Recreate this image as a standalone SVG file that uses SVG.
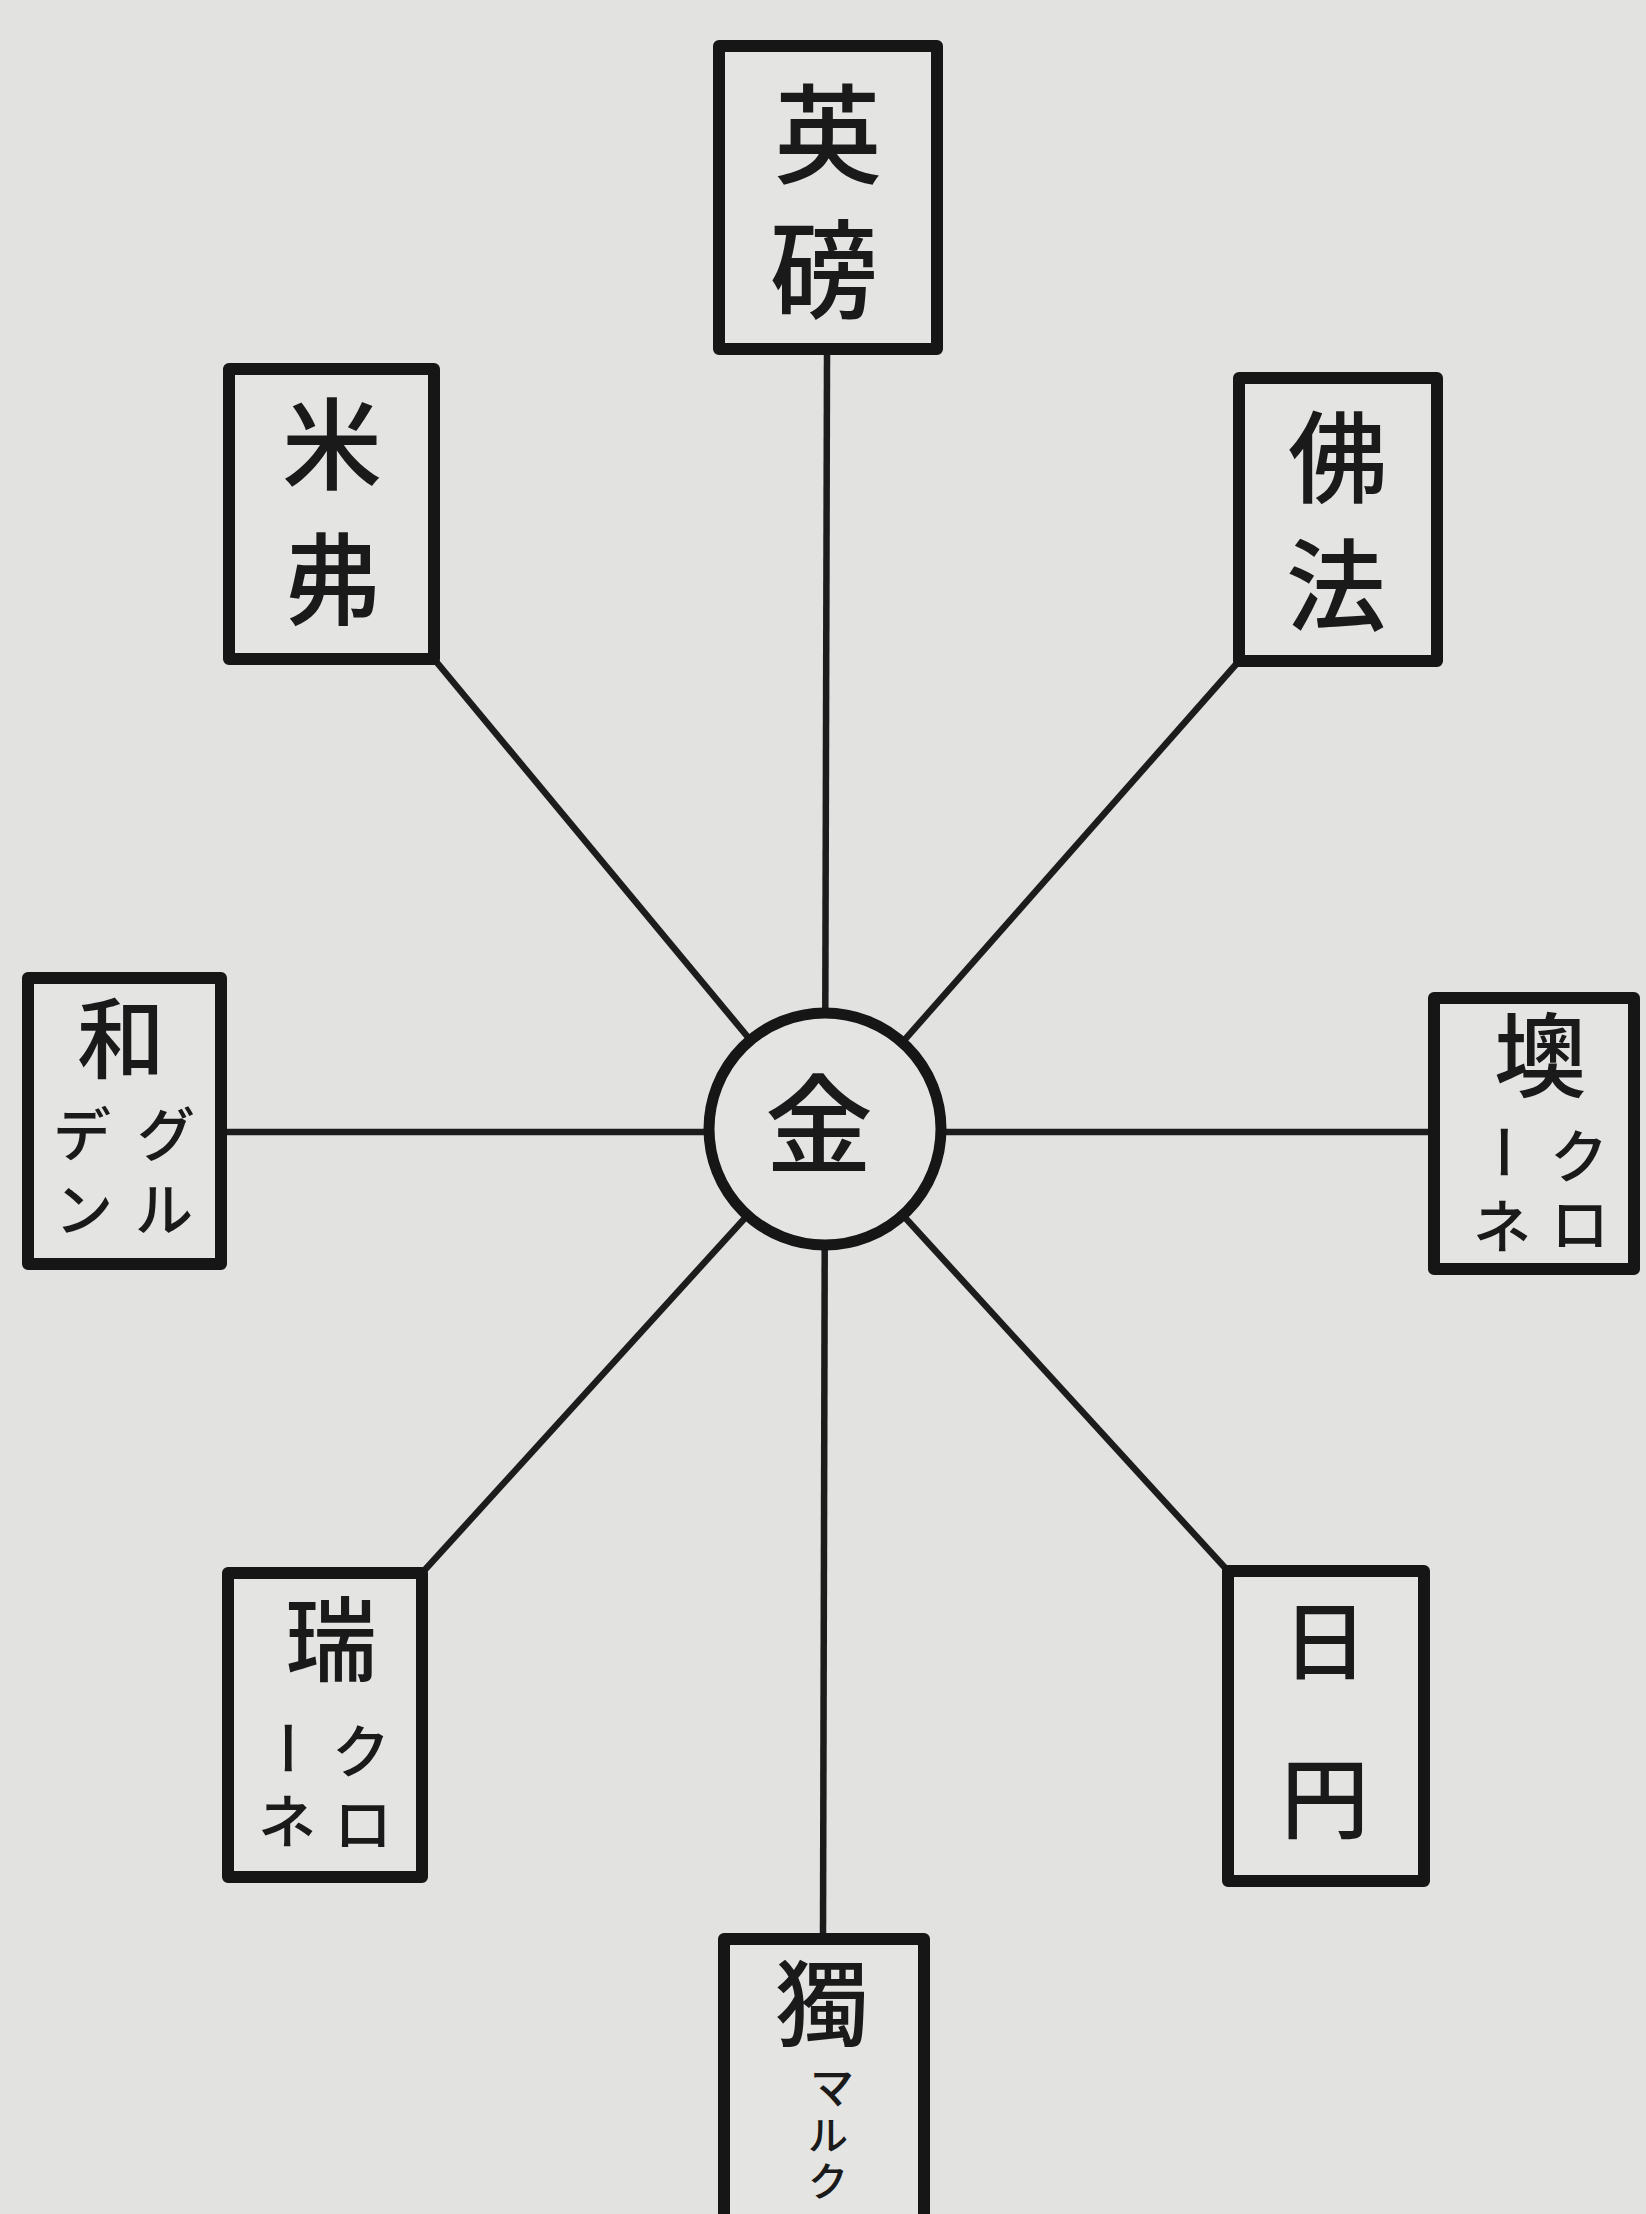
<svg xmlns="http://www.w3.org/2000/svg" width="1646" height="2214" viewBox="0 0 1646 2214">
<style>
.bg{fill:#e2e2e0}
.box{fill:#e4e4e2;stroke:#161616;stroke-width:12;stroke-linejoin:round}
.conn{stroke:#1c1c1c;stroke-width:6.5;fill:none}
.hub{fill:#e4e4e2;stroke:#161616;stroke-width:11}
text{font-family:"Liberation Sans","Noto Sans CJK JP","Noto Sans CJK SC",sans-serif;font-weight:500;fill:#1a1a1a;text-anchor:middle;dominant-baseline:central}
.k{font-size:100px}
.s{font-size:58px}
</style>
<rect class="bg" x="0" y="0" width="1646" height="2214"/>
<g id="connectors">
<line class="conn" x1="827" y1="355" x2="825" y2="1130"/>
<line class="conn" x1="825" y1="1130" x2="823" y2="1939"/>
<line class="conn" x1="221" y1="1132" x2="1434" y2="1132"/>
<line class="conn" x1="434" y1="659" x2="825" y2="1130"/>
<line class="conn" x1="1239" y1="661" x2="825" y2="1130"/>
<line class="conn" x1="422" y1="1573" x2="825" y2="1130"/>
<line class="conn" x1="1228" y1="1571" x2="825" y2="1130"/>
</g>
<g id="node-gold">
<circle class="hub" cx="825" cy="1129" r="116"/>
<text class="k" x="819" y="1127" style="font-size:108px">金</text>
</g>
<g id="node-gbp">
<rect class="box" x="719" y="46" width="218" height="303"/>
<text class="k" x="828" y="137" style="font-size:108px">英</text>
<text class="k" x="824" y="272" style="font-size:108px">磅</text>
</g>
<g id="node-usd">
<rect class="box" x="229" y="369" width="205" height="290"/>
<text class="k" x="332" y="447">米</text>
<text class="k" x="332" y="582">弗</text>
</g>
<g id="node-frf">
<rect class="box" x="1239" y="378" width="198" height="283"/>
<text class="k" x="1338" y="460">佛</text>
<text class="k" x="1336" y="588">法</text>
</g>
<g id="node-nlg">
<rect class="box" x="28" y="978" width="193" height="286"/>
<text class="k" x="121" y="1040" style="font-size:88px">和</text>
<text class="s" x="82" y="1135">デ</text>
<text class="s" x="84" y="1210">ン</text>
<text class="s" x="166" y="1135">グ</text>
<text class="s" x="164" y="1210">ル</text>
</g>
<g id="node-atk">
<rect class="box" x="1434" y="998" width="200" height="271"/>
<text class="k" x="1540" y="1058" style="font-size:92px">墺</text>
<text class="s" x="1579" y="1157">ク</text>
<text class="s" x="1580" y="1225">ロ</text>
<text class="s" transform="translate(1502 1152) rotate(90)" x="0" y="0">ー</text>
<text class="s" x="1502" y="1227">ネ</text>
</g>
<g id="node-chf">
<rect class="box" x="228" y="1573" width="194" height="304"/>
<text class="k" x="331" y="1642" style="font-size:92px">瑞</text>
<text class="s" x="361" y="1752">ク</text>
<text class="s" x="363" y="1825">ロ</text>
<text class="s" transform="translate(286 1748) rotate(90)" x="0" y="0">ー</text>
<text class="s" x="287" y="1822">ネ</text>
</g>
<g id="node-jpy">
<rect class="box" x="1228" y="1571" width="196" height="310"/>
<text class="k" x="1325" y="1643" style="font-size:85px">日</text>
<text class="k" x="1325" y="1800" style="font-size:88px">円</text>
</g>
<g id="node-dem">
<rect class="box" x="724" y="1939" width="200" height="300"/>
<text class="k" x="822" y="2006" style="font-size:94px">獨</text>
<text class="s" x="832" y="2088" style="font-size:44px">マ</text>
<text class="s" x="828" y="2136" style="font-size:40px">ル</text>
<text class="s" x="828" y="2182" style="font-size:40px">ク</text>
</g>
</svg>
